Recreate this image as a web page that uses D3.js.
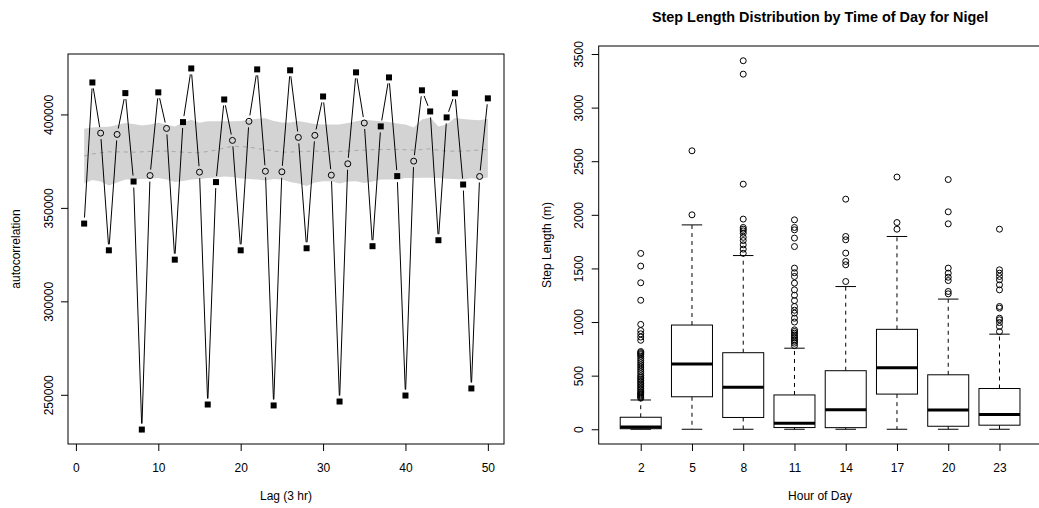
<!DOCTYPE html>
<html><head><meta charset="utf-8">
<script src="https://cdn.jsdelivr.net/npm/d3@7"></script>
<style>
body{margin:0;background:#fff;}
svg{display:block;}
text{font-family:"Liberation Sans", Arial, Helvetica, sans-serif; fill:#000;}
</style></head><body>
<svg id="chart" width="1039" height="508"></svg>
<script>
// ---------- Left panel data ----------
const lags = [1,2,3,4,5,6,7,8,9,10,11,12,13,14,15,16,17,18,19,20,21,22,23,24,25,
              26,27,28,29,30,31,32,33,34,35,36,37,38,39,40,41,42,43,44,45,46,47,48,49,50];
const acf = [341600,417100,390000,327300,389300,411400,364100,231400,367300,411800,
             392500,322300,395900,424600,369100,244800,363800,408000,386100,327300,
             396300,424100,369600,244300,369300,423600,387700,328400,388800,409600,
             367500,246400,373600,422500,395400,329500,393600,419800,367000,249600,
             375000,412900,401600,332700,398400,411300,362500,253400,366800,408600];
const markerType = ["s","s","c","s","c","s","s","s","c","s",
                    "c","s","s","s","c","s","s","s","c","s",
                    "c","s","c","s","c","s","c","s","c","s",
                    "c","s","c","s","c","s","s","s","s","s",
                    "c","s","s","s","s","s","s","s","c","s"];
const bandUpper = [392300,393000,393300,393400,394400,395400,394900,394100,394600,395600,
                   394600,393600,395700,397100,395600,396300,396400,396400,396400,396500,
                   397100,397700,398000,396500,395700,395700,396500,395700,394900,394600,
                   394600,394600,395400,396300,397100,396800,396400,395900,395200,394600,
                   393000,397300,398400,393600,394600,398100,397600,397100,396900,397700];
const bandLower = [363000,364900,364100,362000,363600,365200,365200,365400,365600,366000,
                   365200,363800,364400,365200,365400,366000,366300,366800,366500,365700,
                   365400,365200,364600,365400,365200,363800,363000,361700,363600,364300,
                   364300,363000,364100,364300,363300,364100,365200,365200,365200,366000,
                   366000,366100,366100,366000,365600,365400,365200,365900,365400,366200];
const bandMean = [377700,378800,379500,380000,380000,379900,379800,380000,380200,380300,
                  380400,380100,379800,379600,379500,380200,380900,382000,383000,382800,
                  382500,381800,381200,380400,379800,379900,380000,380200,380400,380200,
                  380000,380200,380400,380700,380900,381100,381250,381250,381250,381100,
                  380900,381200,381600,380800,380400,380300,380400,380600,381000,381250];
const lagTicks = [0,10,20,30,40,50];
const acfTicks = [250000,300000,350000,400000];

// ---------- Right panel data ----------
const hours = ["2","5","8","11","14","17","20","23"];
const whiskerLow  = [0,0,0,0,0,0,0,0];
const q1          = [5,303,110,16,15,328,28,38];
const median      = [20,609,392,55,181,574,180,138];
const q3          = [112,972,714,320,546,932,508,380];
const whiskerHigh = [273,1906,1620,756,1331,1798,1214,887];
const outliersH2  = [290,300,310,320,330,340,350,365,380,395,410,425,440,455,470,485,500,520,540,
                     560,580,600,620,640,660,680,695,705,715,725,830,860,890,920,978,1203,1366,1522,1640];
const outliersH5  = [2000,2597];
const outliersH8  = [1641,1680,1720,1760,1790,1828,1850,1866,1882,1960,2286,3312,3437];
const outliersH11 = [780,803,820,834,850,865,880,896,912,927,1000,1036,1083,1110,1145,1200,1250,
                     1300,1363,1425,1460,1503,1704,1783,1860,1882,1953];
const outliersH14 = [1378,1534,1565,1643,1767,1798,2146];
const outliersH17 = [1866,1928,2352];
const outliersH20 = [1263,1285,1387,1418,1456,1503,1916,2028,2329];
const outliersH23 = [911,958,995,1021,1036,1130,1145,1300,1347,1394,1425,1456,1487,1866];
const outliers = [outliersH2,outliersH5,outliersH8,outliersH11,outliersH14,outliersH17,outliersH20,outliersH23];
const stepTicks = [0,500,1000,1500,2000,2500,3000,3500];

const svg = d3.select("#chart");
svg.append("rect").attr("width",1039).attr("height",508).attr("fill","#fff");

const TICK = 7;
function rPad(ext){ const p = 0.04*(ext[1]-ext[0]); return [ext[0]-p, ext[1]+p]; }

// ================= LEFT PANEL =================
const L = {x0:68, x1:504, y0:54, y1:444};
const xL = d3.scaleLinear().domain(rPad(d3.extent(lags))).range([L.x0, L.x1]);
const yL = d3.scaleLinear().domain(rPad(d3.extent(acf))).range([L.y1, L.y0]);
const gL = svg.append("g");

const bandData = lags.map((l,i)=>({l, lo:bandLower[i], hi:bandUpper[i], m:bandMean[i]}));
gL.append("path").datum(bandData)
  .attr("d", d3.area().x(d=>xL(d.l)).y0(d=>yL(d.lo)).y1(d=>yL(d.hi)))
  .attr("fill","#d3d3d3").attr("stroke","none");
gL.append("path").datum(bandData)
  .attr("d", d3.line().x(d=>xL(d.l)).y(d=>yL(d.m)))
  .attr("fill","none").attr("stroke","#a8a8a8").attr("stroke-width",1).attr("stroke-dasharray","4,4");

// line segments with gaps (type = "b")
const GAP = 6;
for(let i=0;i<lags.length-1;i++){
  const ax=xL(lags[i]), ay=yL(acf[i]), bx=xL(lags[i+1]), by=yL(acf[i+1]);
  const dx=bx-ax, dy=by-ay, d=Math.hypot(dx,dy);
  if(d>2*GAP){
    const ux=dx/d, uy=dy/d;
    gL.append("line").attr("x1",ax+ux*GAP).attr("y1",ay+uy*GAP)
      .attr("x2",bx-ux*GAP).attr("y2",by-uy*GAP)
      .attr("stroke","#000").attr("stroke-width",1);
  }
}
// markers
lags.forEach((l,i)=>{
  const cx=xL(l), cy=yL(acf[i]);
  if(markerType[i]==="s"){
    gL.append("rect").attr("x",cx-3).attr("y",cy-3).attr("width",6).attr("height",6).attr("fill","#000");
  } else {
    gL.append("circle").attr("cx",cx).attr("cy",cy).attr("r",3).attr("fill","none")
      .attr("stroke","#000").attr("stroke-width",1);
  }
});
// frame
gL.append("rect").attr("x",L.x0).attr("y",L.y0).attr("width",L.x1-L.x0).attr("height",L.y1-L.y0)
  .attr("fill","none").attr("stroke","#000").attr("stroke-width",1);
// x axis
const axL = gL.append("g").attr("transform",`translate(0,${L.y1})`)
  .call(d3.axisBottom(xL).tickValues(lagTicks).tickSize(TICK).tickSizeOuter(0).tickFormat(d3.format("d")));
axL.select(".domain").remove();
axL.selectAll("line").attr("stroke","#000");
axL.selectAll("text").attr("y",28).attr("dy",0).attr("font-size",12).attr("fill","#000");
// y axis
const ayL = gL.append("g").attr("transform",`translate(${L.x0},0)`)
  .call(d3.axisLeft(yL).tickValues(acfTicks).tickSize(TICK).tickSizeOuter(0).tickFormat(d3.format("d")));
ayL.select(".domain").remove();
ayL.selectAll("line").attr("stroke","#000");
ayL.selectAll("text").attr("transform","rotate(-90)").attr("x",0).attr("y",-15).attr("dy",0)
  .attr("text-anchor","middle").attr("font-size",12).attr("fill","#000");
// titles
gL.append("text").attr("x",(L.x0+L.x1)/2).attr("y",500).attr("text-anchor","middle")
  .attr("font-size",12).text("Lag (3 hr)");
gL.append("text").attr("transform",`translate(20,${(L.y0+L.y1)/2}) rotate(-90)`)
  .attr("text-anchor","middle").attr("font-size",12).text("autocorrelation");

// ================= RIGHT PANEL =================
const R = {x0:598.7, x1:1041.5, y0:46, y1:444};
const idx = hours.map((h,i)=>i+1);
const xR = d3.scaleLinear().domain(rPad([0.5, hours.length+0.5])).range([R.x0, R.x1]);
const allVals = whiskerLow.concat(whiskerHigh, outliers.flat());
const yR = d3.scaleLinear().domain(rPad(d3.extent(allVals))).range([R.y1, R.y0]);
const gR = svg.append("g");
const unit = xR(1)-xR(0);
const bw = 0.4*unit, sw = 0.2*unit;

hours.forEach((h,i)=>{
  const cx = xR(idx[i]);
  // whiskers
  gR.append("line").attr("x1",cx).attr("x2",cx).attr("y1",yR(q3[i])).attr("y2",yR(whiskerHigh[i]))
    .attr("stroke","#000").attr("stroke-dasharray","4,4");
  gR.append("line").attr("x1",cx).attr("x2",cx).attr("y1",yR(q1[i])).attr("y2",yR(whiskerLow[i]))
    .attr("stroke","#000").attr("stroke-dasharray","4,4");
  // staples
  [whiskerHigh[i], whiskerLow[i]].forEach(v=>{
    gR.append("line").attr("x1",cx-sw).attr("x2",cx+sw).attr("y1",yR(v)).attr("y2",yR(v)).attr("stroke","#000");
  });
  // box
  gR.append("rect").attr("x",cx-bw).attr("y",yR(q3[i])).attr("width",2*bw)
    .attr("height",yR(q1[i])-yR(q3[i])).attr("fill","#fff").attr("stroke","#000");
  // median
  gR.append("line").attr("x1",cx-bw).attr("x2",cx+bw).attr("y1",yR(median[i])).attr("y2",yR(median[i]))
    .attr("stroke","#000").attr("stroke-width",3);
  // outliers
  outliers[i].forEach(v=>{
    gR.append("circle").attr("cx",cx).attr("cy",yR(v)).attr("r",3).attr("fill","none")
      .attr("stroke","#000").attr("stroke-width",1);
  });
});
gR.append("rect").attr("x",R.x0).attr("y",R.y0).attr("width",R.x1-R.x0).attr("height",R.y1-R.y0)
  .attr("fill","none").attr("stroke","#000").attr("stroke-width",1);
const axR = gR.append("g").attr("transform",`translate(0,${R.y1})`)
  .call(d3.axisBottom(xR).tickValues(idx).tickSize(TICK).tickSizeOuter(0).tickFormat((d,i)=>hours[i]));
axR.select(".domain").remove();
axR.selectAll("line").attr("stroke","#000");
axR.selectAll("text").attr("y",28).attr("dy",0).attr("font-size",12).attr("fill","#000");
const ayR = gR.append("g").attr("transform",`translate(${R.x0},0)`)
  .call(d3.axisLeft(yR).tickValues(stepTicks).tickSize(TICK).tickSizeOuter(0).tickFormat(d3.format("d")));
ayR.select(".domain").remove();
ayR.selectAll("line").attr("stroke","#000");
ayR.selectAll("text").attr("transform","rotate(-90)").attr("x",0).attr("y",-16).attr("dy",0)
  .attr("text-anchor","middle").attr("font-size",12).attr("fill","#000");
gR.append("text").attr("x",(R.x0+R.x1)/2).attr("y",500).attr("text-anchor","middle")
  .attr("font-size",12).text("Hour of Day");
gR.append("text").attr("transform",`translate(551,${(R.y0+R.y1)/2}) rotate(-90)`)
  .attr("text-anchor","middle").attr("font-size",12).text("Step Length (m)");
gR.append("text").attr("x",(R.x0+R.x1)/2).attr("y",22).attr("text-anchor","middle")
  .attr("font-size",14.4).attr("font-weight","bold").text("Step Length Distribution by Time of Day for Nigel");
</script>
</body></html>
